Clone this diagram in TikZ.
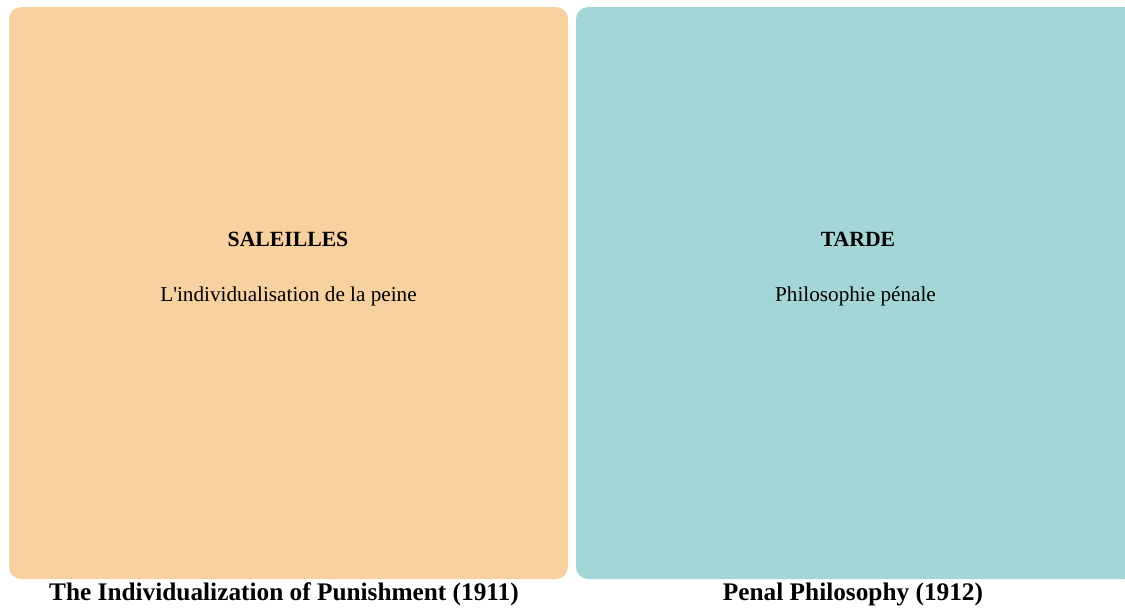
\documentclass[tikz,border=0pt]{standalone}
\usepackage{fontspec}
\setmainfont{Liberation Serif}
\definecolor{peach}{HTML}{F8D1A1}
\definecolor{teal}{HTML}{A4D6D8}
\tikzset{
  panel/.style={rounded corners=12pt, draw=none},
  heading/.style={anchor=base, font=\bfseries\fontsize{21.7}{24}\selectfont, inner sep=0pt},
  subline/.style={anchor=base, font=\fontsize{21.2}{24}\selectfont, inner sep=0pt},
  caption/.style={anchor=base, font=\bfseries\fontsize{25.3}{28}\selectfont, inner sep=0pt}
}
\begin{document}
\begin{tikzpicture}[x=1pt,y=-1pt]
\useasboundingbox (0,0) rectangle (1125,608);
\fill[white] (0,0) rectangle (1125,608);
\begin{scope}
\clip (0,0) rectangle (1125,608);
\fill[peach, panel] (9,7) rectangle (568,579);
\fill[teal, panel] (576,7) rectangle (1136,579);
\end{scope}
\node[heading] (t1) at (288,246) {SALEILLES};
\node[subline] (s1) at (288.5,301) {L\textquotesingle individualisation de la peine};
\node[heading] (t2) at (858,246) {TARDE};
\node[subline] (s2) at (855.5,301) {Philosophie pénale};
\node[caption] (c1) at (284,600) {The Individualization of Punishment (1911)};
\node[caption] (c2) at (853,600) {Penal Philosophy (1912)};
\end{tikzpicture}
\end{document}
